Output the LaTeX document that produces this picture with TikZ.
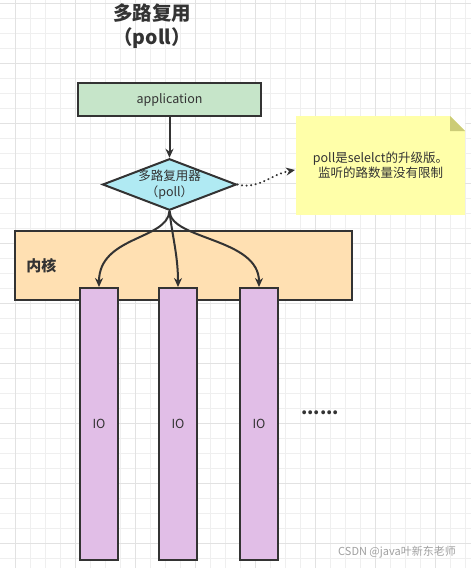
\documentclass[tikz,border=0pt]{standalone}
\usepackage{fontspec}
\setmainfont{Noto Sans CJK SC}
\usetikzlibrary{arrows.meta}
\usetikzlibrary{shapes.geometric}
\definecolor{linec}{HTML}{333333}
\definecolor{gridc}{HTML}{EFEFEF}
\definecolor{gridd}{HTML}{E2E2E2}
\definecolor{appc}{HTML}{C6E5C9}
\definecolor{diac}{HTML}{B0EAF3}
\definecolor{notec}{HTML}{FFFFA9}
\definecolor{foldc}{HTML}{CCCC77}
\definecolor{kernc}{HTML}{FFE0B2}
\definecolor{ioc}{HTML}{E1BEE7}
\definecolor{markc}{HTML}{A0A0A0}

\begin{document}
\begin{tikzpicture}[x=1pt,y=-1pt,>={Stealth[length=9pt,width=8pt]},line width=2pt,
    box node/.style={rectangle,draw=linec,line width=2pt,text=linec,font=\fontsize{12.5}{15}\selectfont,inner sep=0pt},
    io node/.style={box node,fill=ioc,minimum width=38pt,minimum height=272pt},
    note node/.style={rectangle,fill=notec,text=linec,align=center,inner sep=0pt,
      font=\fontsize{12.5}{15}\selectfont,minimum width=169pt,minimum height=99pt,
      path picture={
        \fill[white] ([xshift=-15pt]path picture bounding box.north east) -- (path picture bounding box.north east) -- ([yshift=-15pt]path picture bounding box.north east) -- cycle;
        \fill[foldc] ([xshift=-15pt]path picture bounding box.north east) -- ([xshift=-15pt,yshift=-15pt]path picture bounding box.north east) -- ([yshift=-15pt]path picture bounding box.north east) -- cycle;}},
    gridline/.style={draw=gridc,line width=0.8pt},
    link/.style={->,draw=linec,line width=2pt}]
   \useasboundingbox (0,0) rectangle (471,568);
   \fill[white] (0,0) rectangle (471,568);
   % grid
   \foreach \gx in {15,30,...,465} \draw[gridline] (\gx,0) -- (\gx,568);
   \foreach \gy in {3,18,...,565} \draw[gridline] (0,\gy) -- (471,\gy);
   \foreach \gx in {15,75,...,465} \draw[gridline,draw=gridd] (\gx,0) -- (\gx,568);
   \foreach \gy in {3,63,...,565} \draw[gridline,draw=gridd] (0,\gy) -- (471,\gy);

   \node[text=linec,align=center,font=\bfseries\fontsize{19.5}{24}\selectfont] (title) at (152,26) {多路复用\\（poll）};
   \node[box node,fill=appc,minimum width=183pt,minimum height=33pt] (app) at (169.5,99.5) {application};
   \node[box node,shape=diamond,fill=diac,align=center,aspect=2.6,inner sep=-0.7pt,
     minimum width=133pt,minimum height=51pt,font=\fontsize{12.5}{16}\selectfont] (dia) at (169.5,184.5) {多路复用器\\（poll）};
   \node[note node] (note) at (380.5,165.5) {poll是selelct的升级版。\\监听的路数量没有限制};

   \node[box node,fill=kernc,minimum width=337pt,minimum height=69pt] (kern) at (183.5,265.5) {};
   \node[text=linec,font=\bfseries\fontsize{15}{18}\selectfont] (kernlabel) at (41.5,266) {内核};
   \node[io node] (io1) at (99,424) {IO};
   \node[io node] (io2) at (178,424) {IO};
   \node[io node] (io3) at (259,424) {IO};
   \node[text=linec,font=\bfseries\fontsize{18}{20}\selectfont] (more) at (320,413) {......};
   \node[text=markc,font=\fontsize{11}{13}\selectfont] (mark) at (397,552) {CSDN @java叶新东老师};

   \path[link] (app) edge (dia);
   \path[link,line width=2.2pt,line cap=round,dash pattern=on 0.1pt off 4.5pt] (dia.east) .. controls (258,190) and (272,174) .. (note.183);
   \path[link] (dia.south) .. controls (167,240) and (99,236) .. (io1.north);
   \path[link] (dia.south) .. controls (172,235) and (178,255) .. (io2.north);
   \path[link] (dia.south) .. controls (171,240) and (259,238) .. (io3.north);
  \end{tikzpicture}
\end{document}
